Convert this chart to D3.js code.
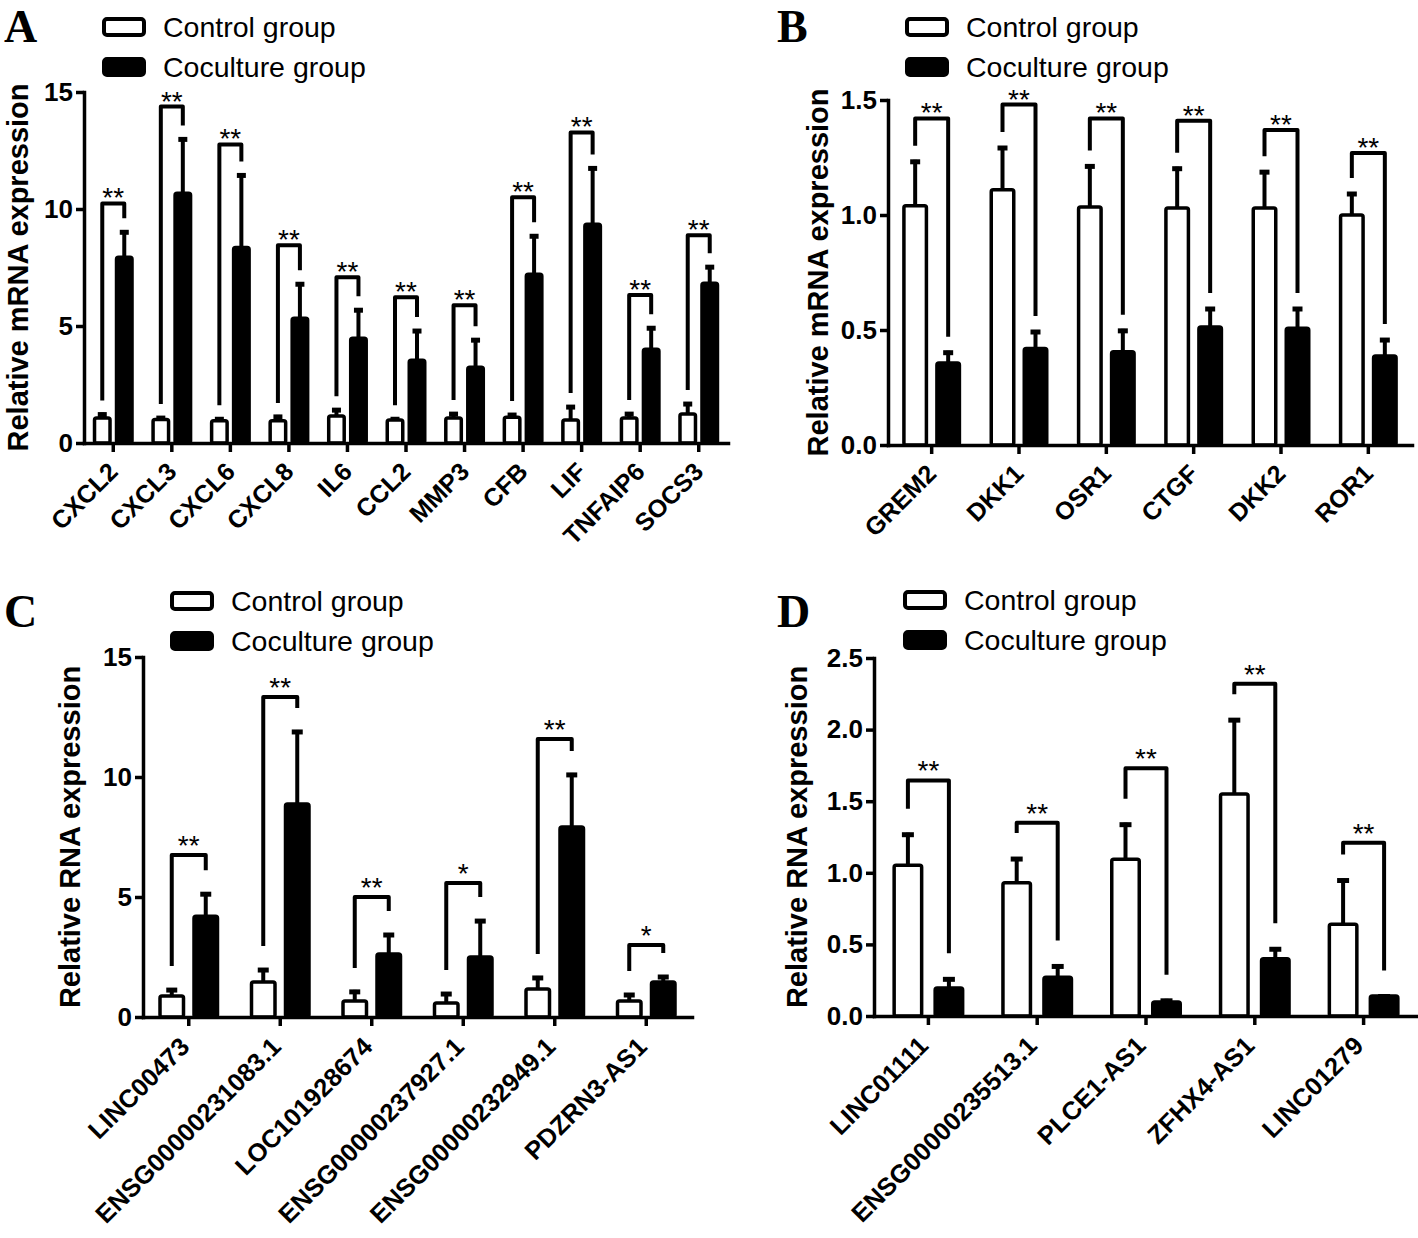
<!DOCTYPE html>
<html>
<head>
<meta charset="utf-8">
<script src="https://cdn.jsdelivr.net/npm/d3@7"></script>
<style>
  body { margin: 0; background: #fff; }
  text { font-family: "Liberation Sans", Arial, sans-serif; }
</style>
</head>
<body>
<script>
// panel A: mRNA, inflammatory genes
const catsA = ["CXCL2", "CXCL3", "CXCL6", "CXCL8", "IL6", "CCL2", "MMP3", "CFB", "LIF", "TNFAIP6", "SOCS3"];
const ctrlA = [1.07, 1.0, 0.95, 0.95, 1.15, 0.98, 1.07, 1.1, 0.98, 1.07, 1.24];
const ctrlErrA = [0.23, 0.15, 0.15, 0.25, 0.34, 0.12, 0.25, 0.18, 0.64, 0.25, 0.51];
const cocA = [7.94, 10.67, 8.36, 5.33, 4.48, 3.54, 3.24, 7.21, 9.35, 4.01, 6.83];
const cocErrA = [1.15, 2.39, 3.16, 1.54, 1.28, 1.33, 1.24, 1.71, 2.47, 0.98, 0.77];
const brA = [10.24, 14.38, 12.76, 8.45, 7.08, 6.23, 5.89, 10.5, 13.27, 6.32, 8.88];
const starsA = ["**", "**", "**", "**", "**", "**", "**", "**", "**", "**", "**"];

// panel B
const catsB = ["GREM2", "DKK1", "OSR1", "CTGF", "DKK2", "ROR1"];
const ctrlB = [1.04, 1.11, 1.035, 1.03, 1.03, 1.0];
const ctrlErrB = [0.2, 0.19, 0.185, 0.18, 0.165, 0.1];
const cocB = [0.356, 0.42, 0.405, 0.513, 0.508, 0.387];
const cocErrB = [0.054, 0.08, 0.1, 0.087, 0.092, 0.078];
const brB = [1.42, 1.48, 1.42, 1.41, 1.37, 1.27];
const starsB = ["**", "**", "**", "**", "**", "**"];

// panel C: RNA
const catsC = ["LINC00473", "ENSG00000231083.1", "LOC101928674", "ENSG00000237927.1", "ENSG00000232949.1", "PDZRN3-AS1"];
const ctrlC = [0.875, 1.46, 0.67, 0.58, 1.17, 0.67];
const ctrlErrC = [0.33, 0.58, 0.46, 0.46, 0.54, 0.33];
const cocC = [4.2, 8.87, 2.62, 2.5, 7.92, 1.46];
const cocErrC = [1.0, 3.09, 0.88, 1.58, 2.25, 0.29];
const brC = [6.75, 13.33, 5.0, 5.58, 11.58, 3.0];
const starsC = ["**", "**", "**", "*", "**", "*"];

// panel D
const catsD = ["LINC01111", "ENSG00000235513.1", "PLCE1-AS1", "ZFHX4-AS1", "LINC01279"];
const ctrlD = [1.053, 0.93, 1.095, 1.55, 0.64];
const ctrlErrD = [0.227, 0.18, 0.255, 0.53, 0.32];
const cocD = [0.195, 0.27, 0.098, 0.4, 0.14];
const cocErrD = [0.075, 0.09, 0.022, 0.08, 0.01];
const brD = [1.645, 1.35, 1.73, 2.32, 1.21];
const starsD = ["**", "**", "**", "**", "**"];

const ticksA = [0, 5, 10, 15];
const ticksB = [0, 0.5, 1.0, 1.5];
const ticksC = [0, 5, 10, 15];
const ticksD = [0, 0.5, 1.0, 1.5, 2.0, 2.5];

const svg = d3.select("body").append("svg")
    .attr("width", 1418)
    .attr("height", 1238);

svg.append("rect").attr("width", 1418).attr("height", 1238).attr("fill", "#fff");

const panels = [
    {letter: "A", lx: 4, ly: 42, cats: catsA, ctrl: ctrlA, ctrlErr: ctrlErrA, coc: cocA, cocErr: cocErrA, br: brA, stars: starsA,
     ticks: ticksA, fmt: d3.format("d"), max: 15, left: 84, right: 728, top: 92, bottom: 443,
     barW: 19, gap: 3, cap: 9, legGap: 12, starOff: 4, labelSize: 25, labX: 0, labY: 24,
     title: "Relative mRNA expression", tx: 18, legX: 102, legY: 27},
    {letter: "B", lx: 777, ly: 42, cats: catsB, ctrl: ctrlB, ctrlErr: ctrlErrB, coc: cocB, cocErr: cocErrB, br: brB, stars: starsB,
     ticks: ticksB, fmt: d3.format(".1f"), max: 1.5, left: 888, right: 1412, top: 100, bottom: 445,
     barW: 26, gap: 7, cap: 10, legGap: 14, starOff: 4, labelSize: 25, labX: 0, labY: 24,
     title: "Relative mRNA expression", tx: 818, legX: 905, legY: 27},
    {letter: "C", lx: 4, ly: 627, cats: catsC, ctrl: ctrlC, ctrlErr: ctrlErrC, coc: cocC, cocErr: cocErrC, br: brC, stars: starsC,
     ticks: ticksC, fmt: d3.format("d"), max: 15, left: 143, right: 692, top: 657, bottom: 1017,
     barW: 27, gap: 7, cap: 11, legGap: 22, starOff: 0, labelSize: 25.5, labX: -4, labY: 25,
     title: "Relative RNA expression", tx: 70, legX: 170, legY: 601},
    {letter: "D", lx: 777, ly: 627, cats: catsD, ctrl: ctrlD, ctrlErr: ctrlErrD, coc: cocD, cocErr: cocErrD, br: brD, stars: starsD,
     ticks: ticksD, fmt: d3.format(".1f"), max: 2.5, left: 874, right: 1418, top: 658, bottom: 1016,
     barW: 31, gap: 10, cap: 12, legGap: 24, starOff: 0, labelSize: 25.5, labX: -5, labY: 25,
     title: "Relative RNA expression", tx: 797, legX: 903, legY: 600}
];

panels.forEach(p => {
    const g = svg.append("g");
    const x = d3.scaleBand().domain(p.cats).range([p.left, p.right]);
    const y = d3.scaleLinear().domain([0, p.max]).range([p.bottom, p.top]);
    const mid = d => x(d) + x.bandwidth() / 2;
    const cx0 = d => mid(d) - p.gap / 2 - p.barW / 2;
    const cx1 = d => mid(d) + p.gap / 2 + p.barW / 2;

    const rows = p.cats.map((c, i) => ({c: c, a: p.ctrl[i], ae: p.ctrlErr[i], b: p.coc[i], be: p.cocErr[i], br: p.br[i], s: p.stars[i]}));

    // error bars (upper only)
    const eb = (sel, xf, vf, ef) => {
        sel.append("line")
            .attr("x1", xf).attr("x2", xf)
            .attr("y1", d => y(vf(d))).attr("y2", d => y(vf(d) + ef(d)))
            .attr("stroke", "#000").attr("stroke-width", 4);
        sel.append("line")
            .attr("x1", d => xf(d) - p.cap / 2).attr("x2", d => xf(d) + p.cap / 2)
            .attr("y1", d => y(vf(d) + ef(d)) + 2).attr("y2", d => y(vf(d) + ef(d)) + 2)
            .attr("stroke", "#000").attr("stroke-width", 5);
    };
    const grp = g.selectAll("g.cat").data(rows).enter().append("g").attr("class", "cat");
    eb(grp, d => cx0(d.c), d => d.a, d => d.ae);
    eb(grp, d => cx1(d.c), d => d.b, d => d.be);

    grp.append("rect")
        .attr("x", d => cx0(d.c) - p.barW / 2 + 1.75)
        .attr("y", d => y(d.a))
        .attr("width", p.barW - 3.5)
        .attr("height", d => y(0) - y(d.a))
        .attr("rx", 2)
        .attr("fill", "#fff").attr("stroke", "#000").attr("stroke-width", 3.5);
    grp.append("rect")
        .attr("x", d => cx1(d.c) - p.barW / 2 + 1.75)
        .attr("y", d => y(d.b))
        .attr("width", p.barW - 3.5)
        .attr("height", d => y(0) - y(d.b))
        .attr("rx", 2)
        .attr("fill", "#000").attr("stroke", "#000").attr("stroke-width", 3.5);

    // significance brackets
    grp.append("path")
        .attr("d", d => {
            const yb = y(d.br);
            const yl = y(d.a + d.ae) - p.legGap;
            const yr = y(d.b + d.be) - p.legGap;
            return `M${cx0(d.c)},${yl}V${yb}H${cx1(d.c)}V${yr}`;
        })
        .attr("fill", "none").attr("stroke", "#000").attr("stroke-width", 4)
        .attr("stroke-linejoin", "round");
    grp.append("text")
        .attr("x", d => mid(d.c))
        .attr("y", d => y(d.br) + p.starOff)
        .attr("text-anchor", "middle")
        .attr("font-size", 28)
        .text(d => d.s);

    // axes
    const ya = g.append("g")
        .attr("transform", `translate(${p.left},0)`)
        .call(d3.axisLeft(y).tickValues(p.ticks).tickFormat(p.fmt).tickSize(8).tickSizeOuter(0).tickPadding(3));
    const xa = g.append("g")
        .attr("transform", `translate(0,${p.bottom})`)
        .call(d3.axisBottom(x).tickSize(9).tickSizeOuter(0));
    [ya, xa].forEach(a => {
        a.select(".domain").attr("stroke-width", 3.5).attr("stroke-linecap", "square");
        a.selectAll(".tick line").attr("stroke-width", 3.5);
    });
    ya.selectAll("text").attr("font-size", 26).attr("font-weight", "bold")
        .attr("font-family", "Liberation Sans, Arial, sans-serif").attr("fill", "#000");
    xa.selectAll("text")
        .attr("font-size", p.labelSize).attr("font-weight", "bold")
        .attr("font-family", "Liberation Sans, Arial, sans-serif").attr("fill", "#000")
        .attr("text-anchor", "end")
        .attr("y", 0).attr("dy", "0.35em")
        .attr("transform", `translate(${p.labX},${p.labY}) rotate(-45)`);

    // y title
    g.append("text")
        .attr("transform", `translate(${p.tx},${(p.top + p.bottom) / 2}) rotate(-90)`)
        .attr("dy", "0.35em")
        .attr("text-anchor", "middle")
        .attr("font-size", 29).attr("font-weight", "bold")
        .text(p.title);

    // legend
    const leg = [["Control group", "#fff"], ["Coculture group", "#000"]];
    leg.forEach((l, i) => {
        g.append("rect")
            .attr("x", p.legX + 2).attr("y", p.legY + i * 40 - 8)
            .attr("width", 40).attr("height", 16).attr("rx", 3)
            .attr("fill", l[1]).attr("stroke", "#000").attr("stroke-width", 4);
        g.append("text")
            .attr("x", p.legX + 61).attr("y", p.legY + i * 40)
            .attr("dy", "0.35em")
            .attr("font-size", 28.5)
            .text(l[0]);
    });

    g.append("text")
        .attr("x", p.lx).attr("y", p.ly)
        .style("font-family", "Liberation Serif, Times New Roman, serif")
        .attr("font-weight", "bold").attr("font-size", 46)
        .text(p.letter);
});
</script>
</body>
</html>
